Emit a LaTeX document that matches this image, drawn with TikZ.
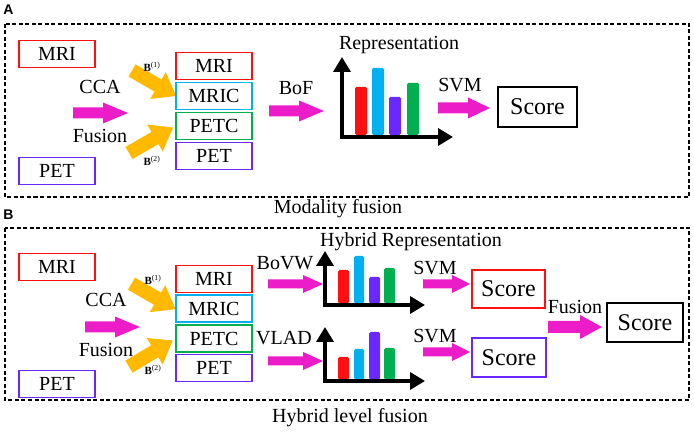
\documentclass[tikz,border=0pt]{standalone}
\usepackage{fontspec}
\setmainfont{Liberation Serif}
\newfontfamily\labelsans{Liberation Sans}
\usetikzlibrary{arrows.meta}
\definecolor{cred}{HTML}{FF1010}
\definecolor{ccyan}{HTML}{00B0F0}
\definecolor{cgreen}{HTML}{00B050}
\definecolor{cpurple}{HTML}{6A28FF}
\definecolor{cmag}{HTML}{EC1CC8}
\definecolor{corange}{HTML}{FFBA00}
\tikzset{
  txt/.style={inner sep=0pt, font=\fontsize{20}{22}\selectfont},
  bsup/.style={inner sep=0pt, font=\fontsize{11}{12}\selectfont},
  plabel/.style={inner sep=0pt, font=\labelsans\bfseries\fontsize{14}{15}\selectfont},
  mbox/.style={draw, line width=1.1pt, minimum width=76pt, minimum height=27pt, inner sep=0pt, font=\fontsize{20}{22}\selectfont},
  scorebox/.style={draw, line width=2pt, minimum width=76pt, minimum height=39pt, inner sep=0pt, font=\fontsize{24}{26}\selectfont},
  panel/.style={draw, line width=2pt, dash pattern=on 4pt off 2.5pt},
  axes/.style={line width=3.5pt, {Triangle[width=17pt,length=15pt]}-{Triangle[width=17pt,length=15pt]}},
  bar/.style={rounded corners=1.5pt},
  pics/fatarrow/.style args={#1/#2/#3/#4}{code={
    \fill[pic actions] (0,-#2) -- ({#1-#4},-#2) -- ({#1-#4},-#3) -- (#1,0) -- ({#1-#4},#3) -- ({#1-#4},#2) -- (0,#2) -- cycle;}},
}
\begin{document}
\begin{tikzpicture}[x=1pt,y=-1pt]
\useasboundingbox (0,0) rectangle (694,435);
% ---------------- Panel A ----------------
\node[plabel] (lA) at (8.5,9.5) {A};
\draw[panel] (5,24) rectangle (689,197);
\node[txt] (modf) at (338,209) {Modality fusion};
\node[mbox, draw=cred] (aMRI) at (57,54) {MRI};
\node[mbox, draw=cpurple] (aPET) at (57,171) {PET};
\node[txt] (aCCA) at (100,87) {CCA};
\node[txt] (aFus) at (100,136) {Fusion};
\pic[fill=cmag] at (73,113) {fatarrow={55/5.5/10.5/25}};
\pic[fill=corange, rotate=-30] at (132,70.5) {fatarrow={51/7/15.5/21}};
\pic[fill=corange, rotate=30] at (129,153) {fatarrow={51/7/15.5/21}};
\node[bsup] (aB1) at (152,67) {\textbf{B}\textsuperscript{(1)}};
\node[bsup] (aB2) at (152,161) {\textbf{B}\textsuperscript{(2)}};
\node[mbox, draw=cred] (aS1) at (214,66) {MRI};
\node[mbox, draw=ccyan] (aS2) at (214,96) {MRIC};
\node[mbox, draw=cgreen] (aS3) at (214,126) {PETC};
\node[mbox, draw=cpurple] (aS4) at (214,156) {PET};
\node[txt] (aBoF) at (296,88) {BoF};
\pic[fill=cmag] at (269,111) {fatarrow={55/5.5/10.5/25}};
\fill[cred, bar] (355,87) rectangle (367,135);
\fill[ccyan, bar] (372,68) rectangle (384,135);
\fill[cpurple, bar] (389,97) rectangle (401,135);
\fill[cgreen, bar] (407,83) rectangle (419,135);
\coordinate (aYt) at (342,57);
\coordinate (aO) at (342,137);
\coordinate (aXt) at (453,137);
\draw[axes] (aYt) -- (aO) -- (aXt);
\node[txt] (aRep) at (399,45) {Representation};
\node[txt] (aSVM) at (460,85) {SVM};
\pic[fill=cmag] at (438,108) {fatarrow={52/5.5/10.5/22}};
\node[scorebox, minimum width=79pt, minimum height=40pt] (aScore) at (537.5,107) {Score};
% ---------------- Panel B ----------------
\node[plabel] (lB) at (8.5,215) {B};
\draw[panel] (5,228) rectangle (689,400);
\node[txt] (hybf) at (350,418) {Hybrid level fusion};
\node[mbox, draw=cred] (bMRI) at (57,267) {MRI};
\node[mbox, draw=cpurple] (bPET) at (57,384) {PET};
\node[txt] (bCCA) at (106,300) {CCA};
\node[txt] (bFus) at (106,350) {Fusion};
\pic[fill=cmag] at (85,327) {fatarrow={55/5.5/10.5/25}};
\pic[fill=corange, rotate=-30] at (131.5,283.7) {fatarrow={51/7/15.5/21}};
\pic[fill=corange, rotate=31] at (129,366.7) {fatarrow={51/7/15.5/21}};
\node[bsup] (bB1) at (153,280) {\textbf{B}\textsuperscript{(1)}};
\node[bsup] (bB2) at (153,370) {\textbf{B}\textsuperscript{(2)}};
\node[mbox, draw=cred] (bS1) at (214,279) {MRI};
\node[mbox, draw=ccyan] (bS2) at (214,308.5) {MRIC};
\node[mbox, draw=cgreen] (bS3) at (214,338.5) {PETC};
\node[mbox, draw=cpurple] (bS4) at (214,368) {PET};
\node[txt] (bBoVW) at (285,263) {BoVW};
\node[txt] (bVLAD) at (284,338) {VLAD};
\pic[fill=cmag] at (268,284) {fatarrow={55/4.5/9/20}};
\pic[fill=cmag] at (268,361) {fatarrow={55/4.5/9/20}};
% upper chart
\fill[cred, bar] (338,270) rectangle (349,303.5);
\fill[ccyan, bar] (354,256) rectangle (364,303.5);
\fill[cpurple, bar] (369,277) rectangle (380,303.5);
\fill[cgreen, bar] (384,268) rectangle (395,303.5);
\coordinate (b1Yt) at (325,251);
\coordinate (b1O) at (325,305);
\coordinate (b1Xt) at (425,305);
\draw[axes] (b1Yt) -- (b1O) -- (b1Xt);
% lower chart
\fill[cred, bar] (338,357) rectangle (349,379.5);
\fill[ccyan, bar] (354,349) rectangle (364,379.5);
\fill[cpurple, bar] (369,332) rectangle (380,379.5);
\fill[cgreen, bar] (384,348) rectangle (395,379.5);
\coordinate (b2Yt) at (325,327);
\coordinate (b2O) at (325,381);
\coordinate (b2Xt) at (425,381);
\draw[axes] (b2Yt) -- (b2O) -- (b2Xt);
\node[txt] (bRep) at (411,242) {Hybrid Representation};
\node[txt] (bSVM1) at (435,268) {SVM};
\node[txt] (bSVM2) at (435,336) {SVM};
\pic[fill=cmag] at (423,284) {fatarrow={47/4.5/9/18}};
\pic[fill=cmag] at (423,352) {fatarrow={47/4.5/9/18}};
\node[scorebox, draw=cred, minimum width=73pt, minimum height=38pt] (bScore1) at (508.5,289) {Score};
\node[scorebox, draw=cpurple, minimum width=74pt, minimum height=39pt] (bScore2) at (509,357.5) {Score};
\node[txt] (bFusion) at (575,307) {Fusion};
\pic[fill=cmag] at (548,327) {fatarrow={54/6/12/22}};
\node[scorebox, minimum width=76pt, minimum height=39pt] (bScore) at (645,322.5) {Score};
\end{tikzpicture}
\end{document}
